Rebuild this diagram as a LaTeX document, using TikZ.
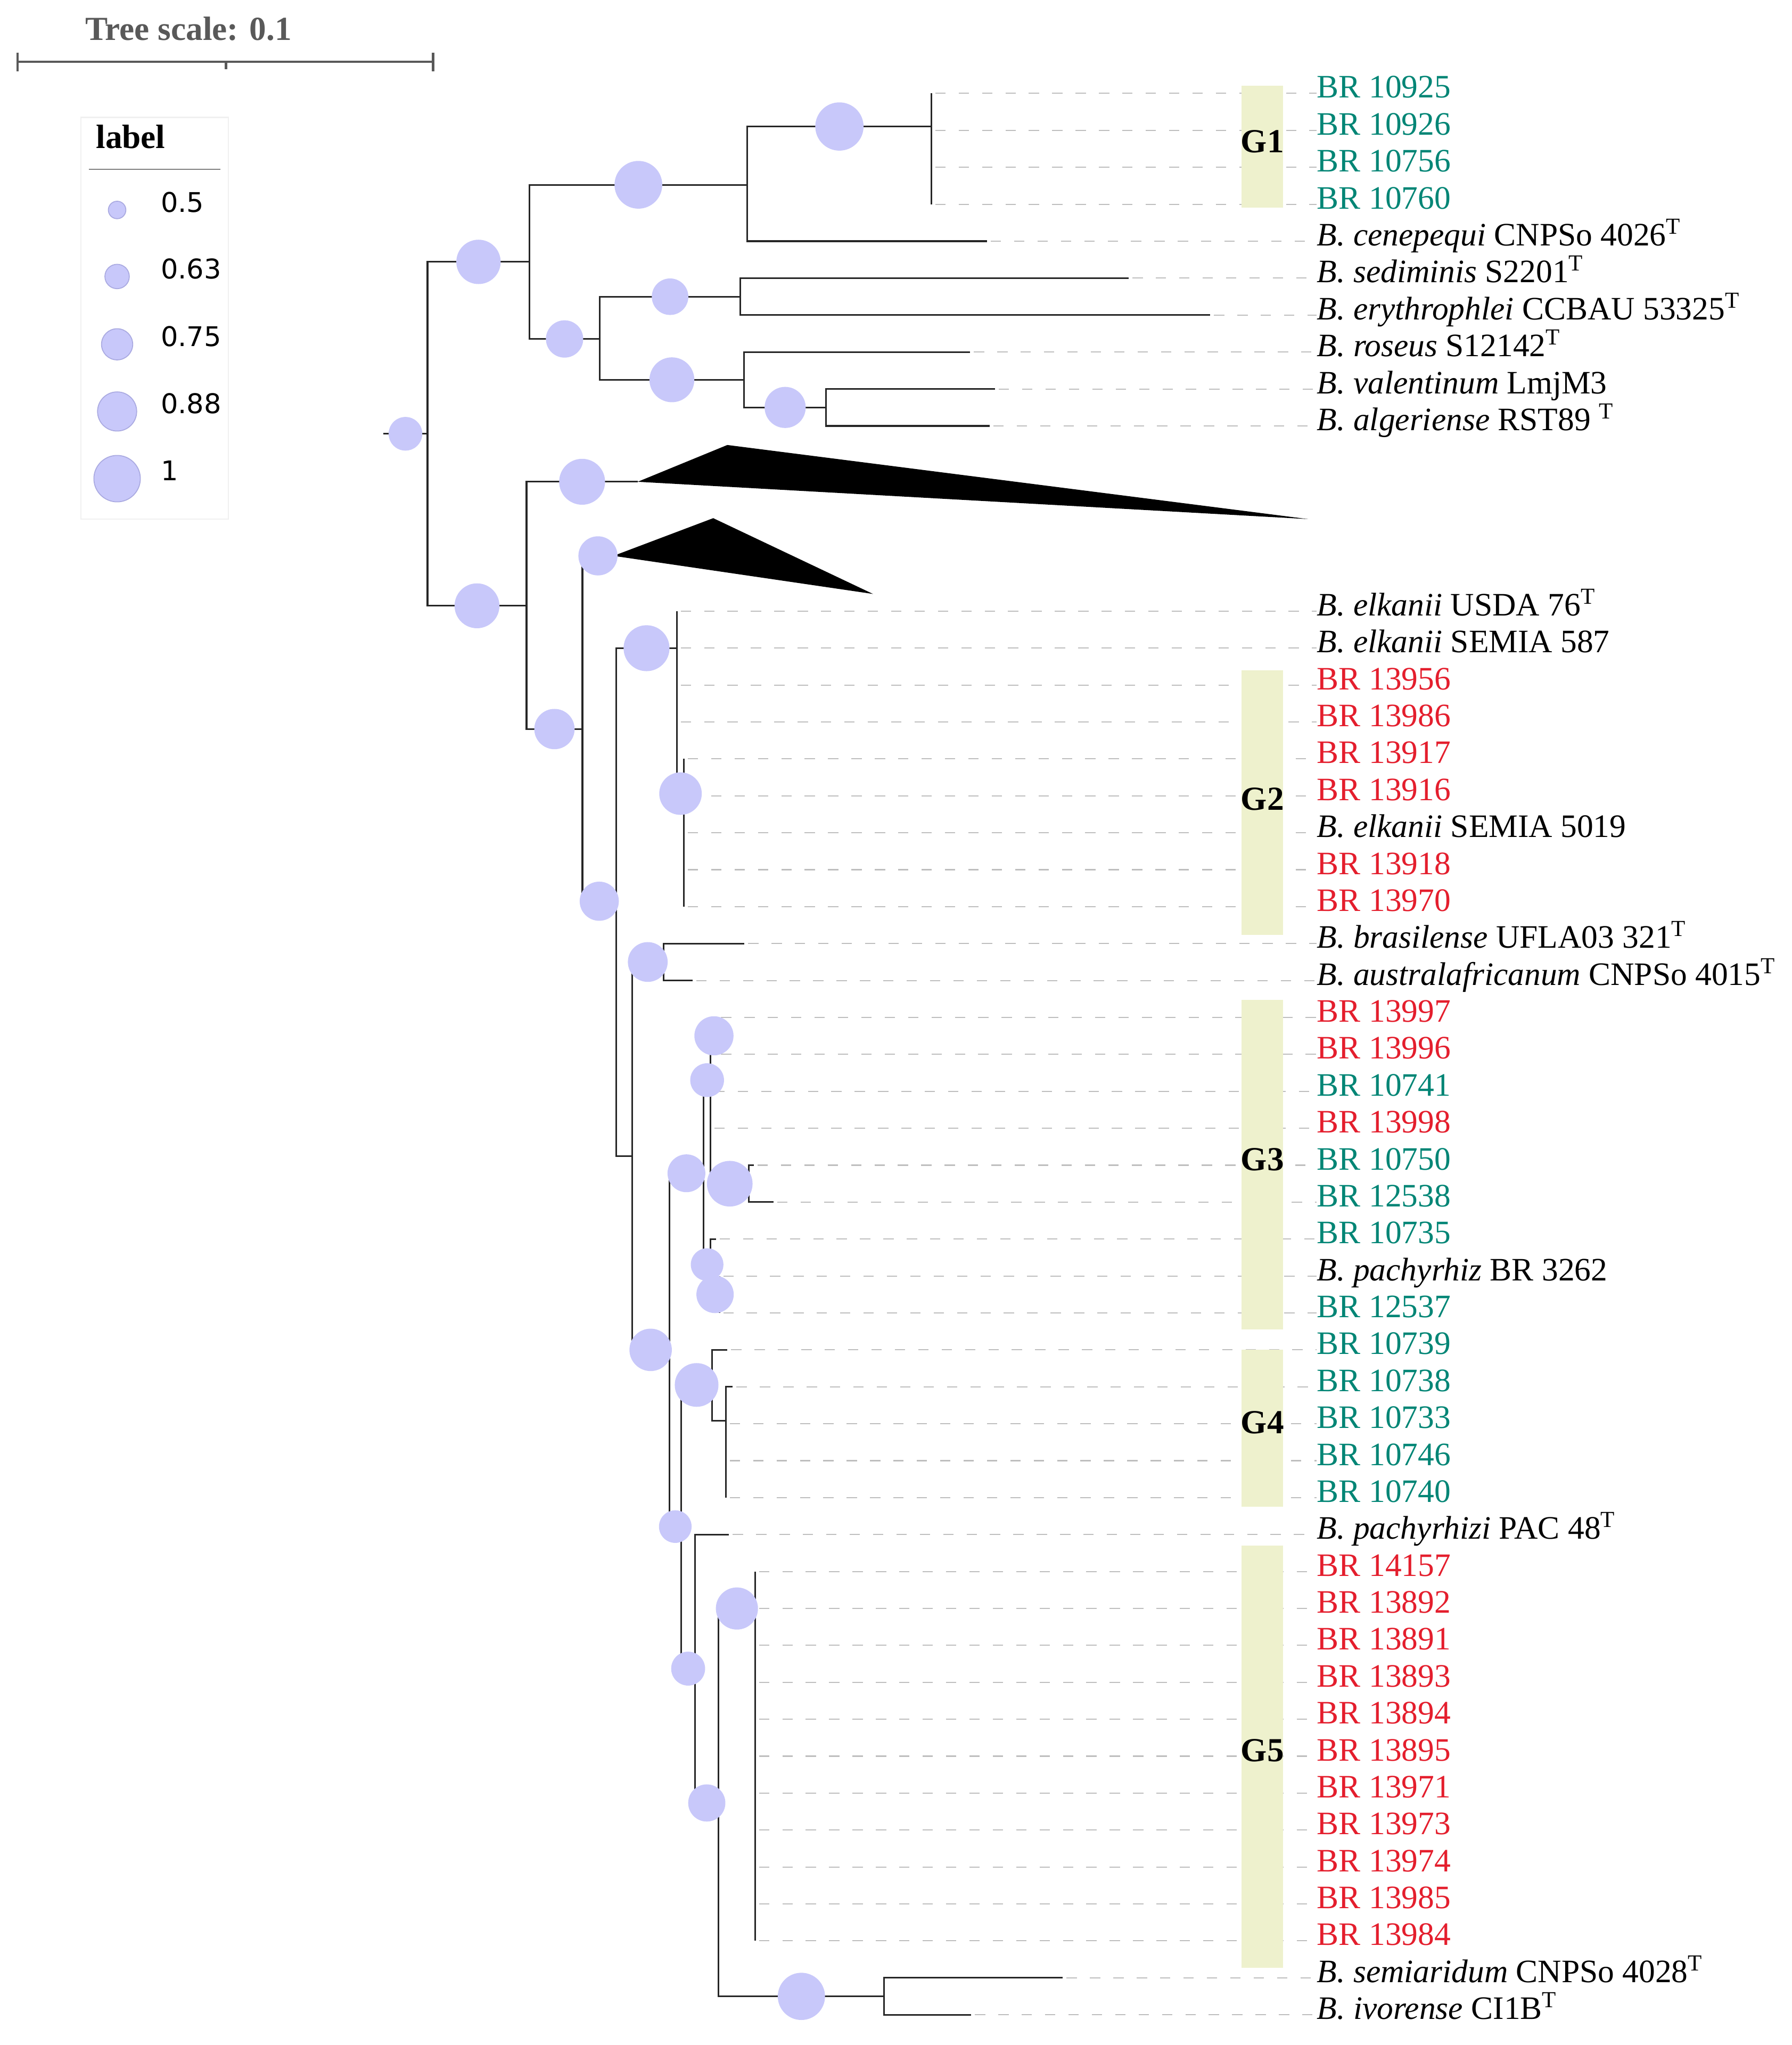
\documentclass[tikz,border=0pt]{standalone}
\usepackage{fontspec}
\setmainfont{Liberation Serif}
\newfontfamily\legendfont{DejaVu Sans}
\usepackage{tikz}
\usetikzlibrary{positioning}
\definecolor{brteal}{RGB}{0,133,117}
\definecolor{brred}{RGB}{228,30,45}
\definecolor{bootfill}{RGB}{200,200,250}
\definecolor{bootline}{RGB}{170,170,225}
\definecolor{groupfill}{RGB}{238,241,205}
\definecolor{leadergray}{RGB}{190,190,190}
\newlength\pxu
\setlength\pxu{0.0245cm}

\def\treebranches{root/nA/34, nA/nB/36.6, nB/nG1/37,
  nG1/l1/0, nG1/l2/0, nG1/l3/0, nG1/l4/0, nB/l5/0,
  nA/nC/28.6, nC/nD/28, nD/l6/0, nD/l7/0,
  nC/nE/34.4, nE/l8/0, nE/nF/31.5, nF/l9/0, nF/l10/0,
  root/nG/34.4, nG/t1/35.2, nG/nI/30.9, nI/t2/30, nI/nK/30,
  nK/nL/35.2, nL/l11/0, nL/l12/0, nL/l13/0, nL/l14/0,
  nL/nM/32.6, nM/l15/0, nM/l16/0, nM/l17/0, nM/l18/0, nM/l19/0,
  nK/nQ/0, nQ/nP/30.5, nP/l20/0, nP/l21/0,
  nQ/nS/32.5, nS/nN/29, nN/nNa/25.9, nNa/nNb/30, nNb/l22/0, nNb/l23/0,
  nNa/l24/0, nNa/l25/0, nNa/nNc/35, nNc/l26/0, nNc/l27/0,
  nN/nNd/25, nNd/l28/0, nNd/nNe/28.6, nNe/l29/0, nNe/l30/0,
  nS/nT/25, nT/nH4/33.5, nH4/l31/0, nH4/nH4b/0,
  nH4b/l32/0, nH4b/l33/0, nH4b/l34/0, nH4b/l35/0,
  nT/nU/26, nU/l36/0, nU/nV/28.5, nV/nW/32.3,
  nW/l37/0, nW/l38/0, nW/l39/0, nW/l40/0, nW/l41/0, nW/l42/0,
  nW/l43/0, nW/l44/0, nW/l45/0, nW/l46/0, nW/l47/0,
  nV/nX/36.2, nX/l48/0, nX/l49/0}

\begin{document}
\begin{tikzpicture}[x=0.0245cm,y=-0.0245cm,
    branch/.style={draw=black!85,line width=0.9pt},
    leader/.style={draw=leadergray,line width=0.6pt,dash pattern=on 5.5pt off 7pt},
    boot/.style={circle,fill=bootfill,inner sep=0pt,minimum size=#1\pxu},
    keyboot/.style={boot=#1,draw=bootline,line width=0.5pt},
    scalebar/.style={draw=black!65,line width=1.3pt},
    leaf/.style={font=\fontsize{17.5}{20}\selectfont,inner sep=0pt,anchor=base west},
    grp/.style={font=\fontsize{18}{20}\selectfont\bfseries,inner sep=0pt}]

\fill[white] (0,0) rectangle (1374,1568);

\node[font=\fontsize{18}{20}\selectfont\bfseries,text=black!65,inner sep=0pt] (scaletitle) at (144.6,22) {Tree scale: 0.1};
\coordinate (sb0) at (13.4,47.4);
\coordinate (sb1) at (332,47.4);
\coordinate (sbm) at (173.4,47.4);
\draw[scalebar] (sb0) -- (sb1);
\draw[scalebar] ([yshift=5pt]sb0) -- ([yshift=-5pt]sb0);
\draw[scalebar] ([yshift=5pt]sb1) -- ([yshift=-5pt]sb1);
\draw[scalebar] (sbm) -- ([yshift=-4pt]sbm);

\draw[draw=black!6,line width=0.6pt] (62,90) rectangle (175,398);
\node[font=\fontsize{18}{20}\selectfont\bfseries,inner sep=0pt] (keytitle) at (100.2,104.7) {label};
\draw[black!50,line width=0.6pt] (68,130) -- (169,130);
\foreach \v/\yy/\d [count=\k] in {0.5/161/13.4, 0.63/212/18.7, 0.75/264/23.9, 0.88/315.5/30, 1/367/35.6} {
  \node[keyboot=\d] (key\k) at (89.8,\yy) {};
  \node[anchor=west,inner sep=0pt,font=\legendfont\fontsize{14.5}{16}\selectfont] (keyval\k) at (123,\yy-6) {\v};
}

\foreach \i/\tx/\col/\txt in {
  1/714.3/brteal/BR 10925, 2/714.3/brteal/BR 10926, 3/714.3/brteal/BR 10756, 4/714.3/brteal/BR 10760,
  5/756.8/black/{\textit{B. cenepequi} CNPSo 4026\textsuperscript{T}},
  6/865.5/black/{\textit{B. sediminis} S2201\textsuperscript{T}},
  7/928/black/{\textit{B. erythrophlei} CCBAU 53325\textsuperscript{T}},
  8/743.9/black/{\textit{B. roseus} S12142\textsuperscript{T}},
  9/763/black/{\textit{B. valentinum} LmjM3},
  10/758.9/black/{\textit{B. algeriense} RST89 \textsuperscript{T}},
  11/519.1/black/{\textit{B. elkanii} USDA 76\textsuperscript{T}},
  12/519.1/black/{\textit{B. elkanii} SEMIA 587},
  13/519.1/brred/BR 13956, 14/519.1/brred/BR 13986,
  15/524.5/brred/BR 13917, 16/524.5/brred/BR 13916,
  17/524.5/black/{\textit{B. elkanii} SEMIA 5019},
  18/524.5/brred/BR 13918, 19/524.5/brred/BR 13970,
  20/570.8/black/{\textit{B. brasilense} UFLA03 321\textsuperscript{T}},
  21/531/black/{\textit{B. australafricanum} CNPSo 4015\textsuperscript{T}},
  22/550/brred/BR 13997, 23/550/brred/BR 13996, 24/544.9/brteal/BR 10741,
  25/544.9/brred/BR 13998, 26/578/brteal/BR 10750, 27/593.2/brteal/BR 12538,
  28/549/brteal/BR 10735,
  29/551.7/black/{\textit{B. pachyrhiz} BR 3262},
  30/551.7/brteal/BR 12537,
  31/557.8/brteal/BR 10739, 32/561.9/brteal/BR 10738, 33/556.7/brteal/BR 10733,
  34/556.7/brteal/BR 10746, 35/556.7/brteal/BR 10740,
  36/559/black/{\textit{B. pachyrhizi} PAC 48\textsuperscript{T}},
  37/579.1/brred/BR 14157, 38/579.1/brred/BR 13892, 39/579.1/brred/BR 13891,
  40/579.1/brred/BR 13893, 41/579.1/brred/BR 13894, 42/579.1/brred/BR 13895,
  43/579.1/brred/BR 13971, 44/579.1/brred/BR 13973, 45/579.1/brred/BR 13974,
  46/579.1/brred/BR 13985, 47/579.1/brred/BR 13984,
  48/815/black/{\textit{B. semiaridum} CNPSo 4028\textsuperscript{T}},
  49/744.7/black/{\textit{B. ivorense} CI1B\textsuperscript{T}}} {
  \pgfmathsetmacro\ry{\i<11 ? 71.6+28.33*(\i-1) : 468.6+28.32*(\i-11)}
  \coordinate (l\i) at (\tx,\ry);
  \node[leaf,text=\col] (lab\i) at (1009.6,\ry+3.5) {\txt};
  \draw[leader] ([xshift=2pt]l\i) -- (l\i -| lab\i.west);
}

\foreach \g/\top/\bot/\mid in {G1/65.8/159.1/108.5, G2/514.1/716.8/612.5, G3/766.8/1019.3/889.2,
  G4/1035/1155.1/1090.9, G5/1184.9/1508.7/1342} {
  \fill[groupfill] (952,\top) rectangle (984,\bot);
  \node[grp] (grp\g) at (968,\mid) {\g};
}

\coordinate (root0) at (294,332.6);
\coordinate (root) at (327.8,332.6);
\coordinate (nA) at (406,200.8);
\coordinate (nB) at (573,141.7);
\coordinate (nG1) at (714.3,97);
\coordinate (nC) at (459.8,259.9);
\coordinate (nD) at (567.8,227.5);
\coordinate (nE) at (570.6,291.2);
\coordinate (nF) at (633.5,312.4);
\coordinate (nG) at (403.7,464.5);
\coordinate (t1) at (489,369.4);
\coordinate (nI) at (446.6,559);
\coordinate (t2) at (470.4,426.2);
\coordinate (nK) at (472.4,691);
\coordinate (nL) at (519.1,497);
\coordinate (nM) at (524.5,608.5);
\coordinate (nQ) at (484.6,886.3);
\coordinate (nP) at (508.8,737.6);
\coordinate (nS) at (513.2,1035);
\coordinate (nN) at (539.5,899.6);
\coordinate (nNa) at (544.9,828.2);
\coordinate (nNb) at (550,794.2);
\coordinate (nNc) at (574.2,907.6);
\coordinate (nNd) at (544.9,969.6);
\coordinate (nNe) at (551.7,992.5);
\coordinate (nT) at (522.4,1170.5);
\coordinate (nH4) at (545.9,1061.9);
\coordinate (nH4b) at (556.7,1089.5);
\coordinate (nU) at (532.9,1279.4);
\coordinate (nV) at (551,1382.4);
\coordinate (nW) at (579.1,1233.3);
\coordinate (nX) at (678,1530.7);

\draw[branch] (root0) -- (root);
\foreach \p/\c/\d in \treebranches {
  \draw[branch] (\p) |- (\c);
}
\fill (t1) -- (557.7,341.2) -- (1003,398) -- cycle;
\fill (t2) -- (546.9,397.3) -- (669.4,455.4) -- cycle;

\path (root0) -- node[boot=25.8] (broot) {} (root);
\foreach \p/\c/\d in \treebranches {
  \ifdim\d pt>0pt
    \path (\p |- \c) -- node[boot=\d] (b\c) {} (\c);
  \fi
}
\end{tikzpicture}
\end{document}
